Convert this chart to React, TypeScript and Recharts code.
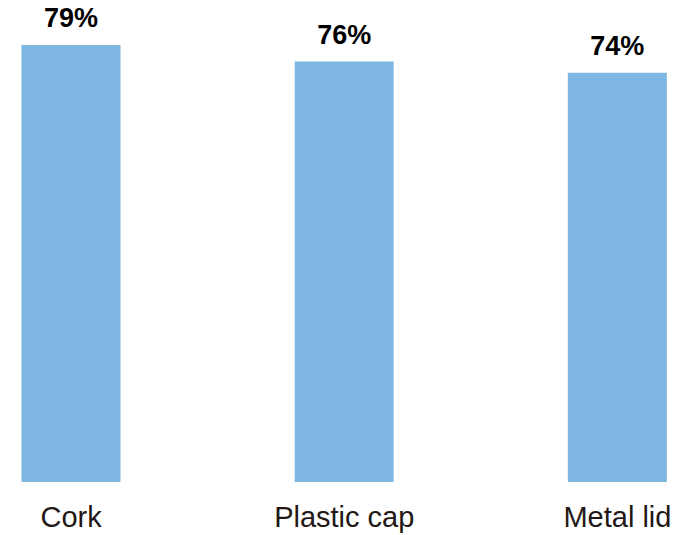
import { BarChart, Bar, XAxis, YAxis, LabelList } from 'recharts'

const categories = ['Cork', 'Plastic cap', 'Metal lid']
const shares = [79, 76, 74]

const chartData = categories.map((name, i) => ({ name, share: shares[i] }))

export default function App() {
  return (
    <div style={{ position: 'absolute', left: 0, top: 0, fontFamily: '"Liberation Sans", Arial, sans-serif' }}>
      <BarChart
        width={692}
        height={535}
        data={chartData}
        margin={{ top: 45, right: -62, left: -65.5, bottom: 13 }}
      >
        <XAxis
          dataKey="name"
          axisLine={false}
          tickLine={false}
          height={40}
          tickMargin={18}
          tick={{ fontSize: 29, fill: '#231815' }}
        />
        <YAxis hide domain={[0, 'dataMax']} />
        <Bar dataKey="share" fill="#7DB7E2" barSize={99} isAnimationActive={false}>
          <LabelList
            dataKey="share"
            position="top"
            offset={18}
            formatter={(v) => `${v}%`}
            style={{ fontSize: 27, fontWeight: 700, fill: '#000000' }}
          />
        </Bar>
      </BarChart>
    </div>
  )
}
